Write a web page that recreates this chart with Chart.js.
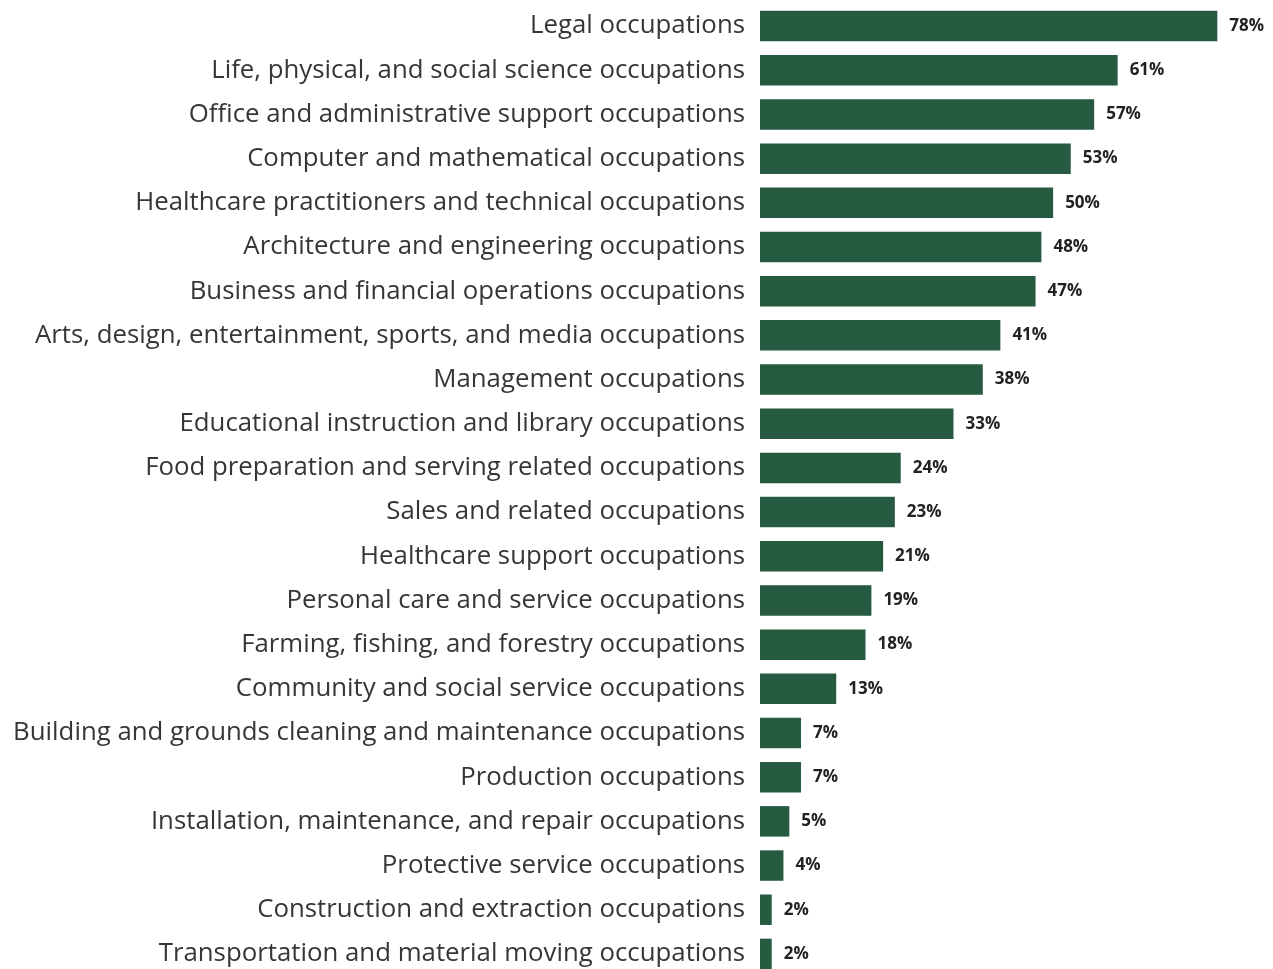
<!DOCTYPE html>
<html>
<head>
<meta charset="utf-8">
<script src="https://cdn.jsdelivr.net/npm/chart.js@4"></script>
<style>
html,body{margin:0;padding:0;background:#fff;overflow:hidden;}
#wrap{position:absolute;left:0;top:0;width:1273px;height:976px;}
</style>
</head>
<body>
<div id="wrap"><canvas id="occChart"></canvas></div>
<script>
const categories = [
"Legal occupations",
"Life, physical, and social science occupations",
"Office and administrative support occupations",
"Computer and mathematical occupations",
"Healthcare practitioners and technical occupations",
"Architecture and engineering occupations",
"Business and financial operations occupations",
"Arts, design, entertainment, sports, and media occupations",
"Management occupations",
"Educational instruction and library occupations",
"Food preparation and serving related occupations",
"Sales and related occupations",
"Healthcare support occupations",
"Personal care and service occupations",
"Farming, fishing, and forestry occupations",
"Community and social service occupations",
"Building and grounds cleaning and maintenance occupations",
"Production occupations",
"Installation, maintenance, and repair occupations",
"Protective service occupations",
"Construction and extraction occupations",
"Transportation and material moving occupations"
];

const shares = [78,61,57,53,50,48,47,41,38,33,24,23,21,19,18,13,7,7,5,4,2,2];

// value labels at the end of each bar
const valueLabels = {
  id:'valueLabels',
  afterDatasetsDraw(chart){
    const ctx = chart.ctx;
    const meta = chart.getDatasetMeta(0);
    ctx.save();
    ctx.font = 'bold 17px "Open Sans"';
    ctx.fillStyle = '#222';
    ctx.textAlign = 'left';
    ctx.textBaseline = 'middle';
    meta.data.forEach((bar,i)=>{
      ctx.fillText(shares[i]+'%', bar.x+12, bar.y);
    });
    ctx.restore();
  }
};

const ctx1 = document.getElementById('occChart');

new Chart(ctx1, {
type:'bar',
data:{
labels:categories,
datasets:[{
label:'Share',
data:shares,
backgroundColor:'#265b42',
categoryPercentage:1,
barPercentage:0.69
}]
},
options:{
indexAxis:'y',
responsive:true,
maintainAspectRatio:false,
animation:false,
layout:{padding:{top:4,right:0,bottom:0,left:0}},
plugins:{legend:{display:false},tooltip:{enabled:false}},
scales:{
x:{display:false,min:0,max:87.5},
y:{
grid:{display:false,drawTicks:false},
border:{display:false},
ticks:{color:'#363636',font:{family:'Open Sans',size:25.8},padding:15,autoSkip:false},
afterFit(scale){
  scale.width = 760;
  scale.paddingTop = 0;
  scale.paddingBottom = 0;
}
}
}
},
plugins:[valueLabels]
});
</script>
</body>
</html>
